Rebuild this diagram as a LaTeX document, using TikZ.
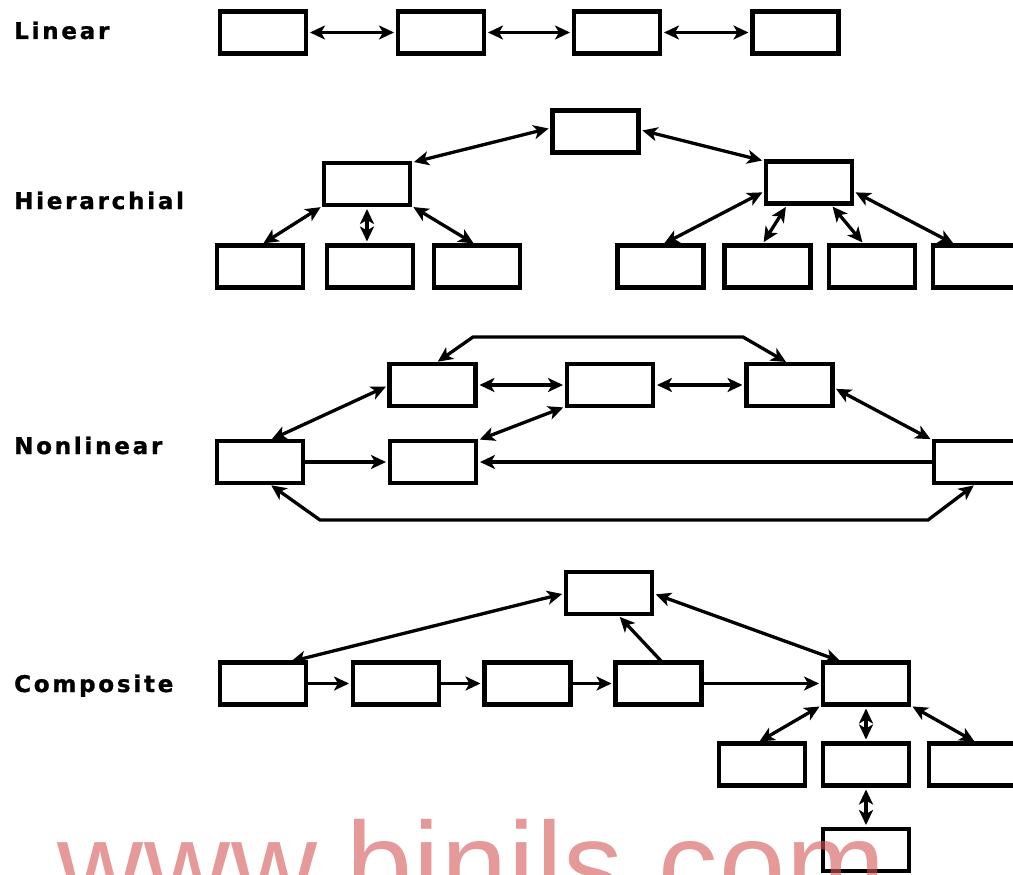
\documentclass[tikz,border=0pt]{standalone}
\usepackage{fontspec}
\newfontfamily\lblfont[LetterSpace=12,FakeBold=1.2]{DejaVu Sans Bold}
\newfontfamily\wmfont[LetterSpace=1]{Liberation Sans}
\usetikzlibrary{arrows.meta,calc}
\definecolor{wm}{RGB}{212,85,85}
\begin{document}
\begin{tikzpicture}[x=1pt,y=-1pt,
  box/.style={draw, line width=4.8pt, minimum width=86pt, minimum height=42pt, inner sep=0pt, outer sep=0pt},
  lnk/.style={line width=3.3pt, shorten >=4pt, shorten <=4pt},
  dbl/.style={lnk, {Stealth[length=15pt,width=14pt,inset=4pt]}-{Stealth[length=15pt,width=14pt,inset=4pt]}},
  one/.style={lnk, -{Stealth[length=15pt,width=14pt,inset=4pt]}, shorten <=0pt},
  lbl/.style={anchor=base west, inner sep=0pt, font=\lblfont\fontsize{23pt}{27pt}\selectfont}]
\clip (0,0) rectangle (1013,875);
\fill[white] (0,0) rectangle (1013,875);

% labels
\node[lbl] (tLin) at (14,39) {Linear};
\node[lbl] (tHie) at (14,209) {Hierarchial};
\node[lbl] (tNon) at (14,454) {Nonlinear};
\node[lbl] (tCom) at (14,692) {Composite};

% Linear
\node[box] (L1) at (263,32.5) {};
\node[box] (L2) at (441,32.5) {};
\node[box] (L3) at (617,32.5) {};
\node[box] (L4) at (795.5,32.5) {};
\draw[dbl] (L1.east) -- (L2.west);
\draw[dbl] (L2.east) -- (L3.west);
\draw[dbl] (L3.east) -- (L4.west);

% Hierarchial
\node[box] (H0) at (595.5,131.5) {};
\node[box] (H1) at (367,184) {};
\node[box] (H2) at (809,182.5) {};
\node[box] (B1) at (260,266.5) {};
\node[box] (B2) at (370,266.5) {};
\node[box] (B3) at (477,266.5) {};
\node[box] (B4) at (660.5,266.5) {};
\node[box] (B5) at (767.5,266.5) {};
\node[box] (B6) at (872,266.5) {};
\node[box] (B7) at (976,266.5) {};
\draw[dbl] ([yshift=4pt]H0.west) -- (H1.north east);
\draw[dbl] ([yshift=2pt]H0.east) -- (H2.north west);
\draw[dbl] (H1.south west) -- (B1.north);
\draw[dbl] (H1.south) -- (H1.south |- B2.north);
\draw[dbl] (H1.south east) -- (B3.north);
\draw[dbl] ([yshift=-8pt]H2.west) -- (B4.north);
\draw[dbl] ([xshift=-21pt]H2.south) -- ([xshift=-6pt]B5.north);
\draw[dbl] ([xshift=21pt]H2.south) -- ([xshift=-7pt]B6.north);
\draw[dbl] ([yshift=-8pt]H2.east) -- ([xshift=-19pt]B7.north);

% Nonlinear
\node[box] (A) at (432.5,385) {};
\node[box] (B) at (610,385) {};
\node[box] (C) at (789.5,385) {};
\node[box] (D) at (260,462) {};
\node[box] (E) at (433,462) {};
\node[box] (F) at (977,462) {};
\coordinate (nt1) at (473,337);
\coordinate (nt2) at (743,337);
\coordinate (nb1) at (320,520);
\coordinate (nb2) at (928,520);
\draw[dbl] ([xshift=2pt]A.north) -- (nt1) -- (nt2) -- (C.north);
\draw[dbl] (A.east) -- (B.west);
\draw[dbl] (B.east) -- (C.west);
\draw[dbl] ([yshift=-2pt]C.east) -- (F.north west);
\draw[dbl] (A.west) -- ([xshift=8pt]D.north);
\draw[one] (D.east) -- (E.west);
\draw[one] (F.west) -- (E.east);
\draw[dbl] (E.north east) -- (B.south west);
\draw[dbl] ([xshift=8pt]D.south) -- (nb1) -- (nb2) -- (F.south);

% Composite
\node[box] (T) at (609,593) {};
\node[box] (C1) at (263,683.5) {};
\node[box] (C2) at (396,683.5) {};
\node[box] (C3) at (527.5,683.5) {};
\node[box] (C4) at (658.5,683.5) {};
\node[box] (C5) at (866,683.5) {};
\node[box] (K1) at (762,764.5) {};
\node[box] (K2) at (866,764.5) {};
\node[box] (K3) at (972,764.5) {};
\node[box] (K4) at (866,850) {};
\draw[dbl] ([xshift=24pt]C1.north) -- (T.west);
\draw[dbl] (T.east) -- ([xshift=-22pt]C5.north);
\draw[one] ([xshift=4pt]C4.north) -- ([xshift=8pt]T.south);
\draw[one] (C1.east) -- (C2.west);
\draw[one] (C2.east) -- (C3.west);
\draw[one] (C3.east) -- (C4.west);
\draw[one] (C4.east) -- (C5.west);
\draw[dbl] (C5.south west) -- ([xshift=-6pt]K1.north);
\draw[dbl] (C5.south) -- (K2.north);
\draw[dbl] (C5.south east) -- ([xshift=6pt]K3.north);
\draw[dbl] (K2.south) -- (K4.north);

% watermark
\node[anchor=base west, inner sep=0pt, text=wm, opacity=0.6, font=\wmfont\fontsize{119pt}{130pt}\selectfont] (wmark) at (57,905) {www.binils.com};
\end{tikzpicture}
\end{document}
